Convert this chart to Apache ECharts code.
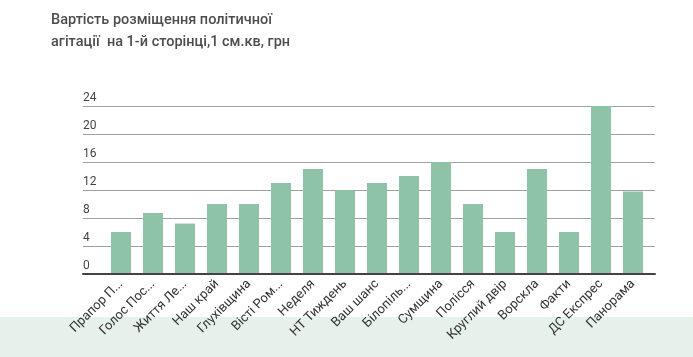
<!DOCTYPE html>
<html>
<head>
<meta charset="utf-8">
<script src="https://cdn.jsdelivr.net/npm/echarts@6/dist/echarts.min.js"></script>
<style>
html,body{margin:0;padding:0;background:#fff;}
#c{width:693px;height:357px;}
</style>
</head>
<body>
<div id="c"></div>
<script>
var titleText = 'Вартість розміщення політичної\nагітації  на 1-й сторінці,1 см.кв, грн';
var categories = ['Прапор П...', 'Голос Пос...', 'Життя Ле...', 'Наш край', 'Глухівщина', 'Вісті Ром...', 'Неделя', 'НТ Тиждень', 'Ваш шанс', 'Білопіль...', 'Сумщина', 'Полісся', 'Круглий двір', 'Ворскла', 'Факти', 'ДС Експрес', 'Панорама'];
var values = [6, 8.7, 7.2, 10, 10, 13, 15, 12, 13, 14, 16, 10, 6, 15, 6, 24, 11.8];
var yMin = 0, yMax = 24, yStep = 4;

var chart = echarts.init(document.getElementById('c'), null, {renderer: 'canvas'});
var font = 'Roboto, "Noto Sans", sans-serif';
chart.setOption({
  animation: false,
  textStyle: {fontFamily: font},
  title: {
    text: titleText,
    left: 46, top: 4,
    textStyle: {fontFamily: font, fontSize: 14.5, fontWeight: 500, color: '#4d4d4d', lineHeight: 22}
  },
  graphic: [{
    type: 'rect', z: -10, silent: true,
    shape: {x: 0, y: 317, width: 693, height: 40},
    style: {fill: '#e7f1eb'}
  }],
  grid: [
    {left: 83, right: 38, top: 106, bottom: 83},
    {left: 105, right: 44, top: 106, bottom: 83}
  ],
  xAxis: [
    {gridIndex: 0, type: 'category', data: [''], axisTick: {show: false}, axisLabel: {show: false},
     axisLine: {show: true, lineStyle: {color: '#444', width: 2}}, z: 5},
    {gridIndex: 1, type: 'category', data: categories, axisTick: {show: false},
     axisLine: {show: false},
     axisLabel: {rotate: 45, interval: 0, margin: 8, fontSize: 13, color: '#333', fontFamily: font}}
  ],
  yAxis: [
    {gridIndex: 0, type: 'value', min: yMin, max: yMax, interval: yStep,
     axisLine: {show: false}, axisTick: {show: false},
     splitLine: {show: true, lineStyle: {color: '#a0a0a0', width: 1}},
     axisLabel: {inside: true, margin: 0, verticalAlign: 'bottom', padding: [0, 0, 2, 0], fontSize: 12, color: '#444', fontFamily: font}},
    {gridIndex: 1, type: 'value', min: yMin, max: yMax, interval: yStep, show: false}
  ],
  series: [{
    type: 'bar', xAxisIndex: 1, yAxisIndex: 1, data: values,
    barWidth: 20,
    itemStyle: {color: '#8fc3a8'}
  }]
});
</script>
</body>
</html>
